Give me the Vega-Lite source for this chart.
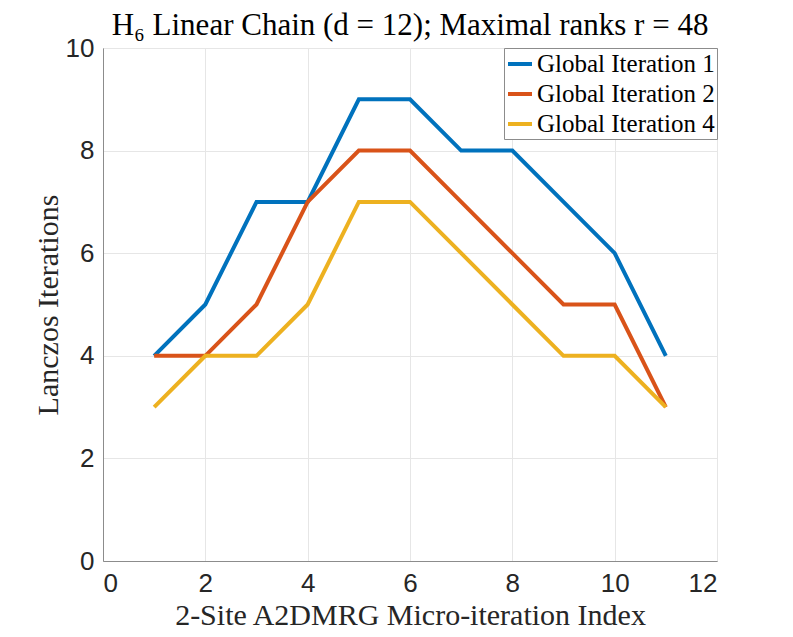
{
  "$schema": "https://vega.github.io/schema/vega-lite/v6.json",
  "autosize": "none",
  "width": 614,
  "height": 513,
  "padding": {"left": 103, "top": 48, "right": 76, "bottom": 76},
  "background": "white",
  "title": {
    "text": "H₆ Linear Chain (d = 12); Maximal ranks r = 48",
    "font": "Liberation Serif",
    "fontSize": 31,
    "fontWeight": "normal",
    "color": "black",
    "anchor": "middle",
    "offset": -7
  },
  "config": {
    "view": {"stroke": "#8c8c8c", "strokeWidth": 1},
    "axis": {
      "labelFont": "Liberation Sans",
      "labelFontSize": 26,
      "labelColor": "#262626",
      "titleFont": "Liberation Serif",
      "titleFontSize": 30,
      "titleFontWeight": "normal",
      "titleColor": "#262626",
      "domainColor": "#8c8c8c",
      "ticks": false,
      "gridColor": "#e6e6e6",
      "gridWidth": 1
    }
  },
  "data": {
    "values": [
      {"x": 1, "y": 4, "s": "Global Iteration 1"},
      {"x": 2, "y": 5, "s": "Global Iteration 1"},
      {"x": 3, "y": 7, "s": "Global Iteration 1"},
      {"x": 4, "y": 7, "s": "Global Iteration 1"},
      {"x": 5, "y": 9, "s": "Global Iteration 1"},
      {"x": 6, "y": 9, "s": "Global Iteration 1"},
      {"x": 7, "y": 8, "s": "Global Iteration 1"},
      {"x": 8, "y": 8, "s": "Global Iteration 1"},
      {"x": 9, "y": 7, "s": "Global Iteration 1"},
      {"x": 10, "y": 6, "s": "Global Iteration 1"},
      {"x": 11, "y": 4, "s": "Global Iteration 1"},
      {"x": 1, "y": 4, "s": "Global Iteration 2"},
      {"x": 2, "y": 4, "s": "Global Iteration 2"},
      {"x": 3, "y": 5, "s": "Global Iteration 2"},
      {"x": 4, "y": 7, "s": "Global Iteration 2"},
      {"x": 5, "y": 8, "s": "Global Iteration 2"},
      {"x": 6, "y": 8, "s": "Global Iteration 2"},
      {"x": 7, "y": 7, "s": "Global Iteration 2"},
      {"x": 8, "y": 6, "s": "Global Iteration 2"},
      {"x": 9, "y": 5, "s": "Global Iteration 2"},
      {"x": 10, "y": 5, "s": "Global Iteration 2"},
      {"x": 11, "y": 3, "s": "Global Iteration 2"},
      {"x": 1, "y": 3, "s": "Global Iteration 4"},
      {"x": 2, "y": 4, "s": "Global Iteration 4"},
      {"x": 3, "y": 4, "s": "Global Iteration 4"},
      {"x": 4, "y": 5, "s": "Global Iteration 4"},
      {"x": 5, "y": 7, "s": "Global Iteration 4"},
      {"x": 6, "y": 7, "s": "Global Iteration 4"},
      {"x": 7, "y": 6, "s": "Global Iteration 4"},
      {"x": 8, "y": 5, "s": "Global Iteration 4"},
      {"x": 9, "y": 4, "s": "Global Iteration 4"},
      {"x": 10, "y": 4, "s": "Global Iteration 4"},
      {"x": 11, "y": 3, "s": "Global Iteration 4"}
    ]
  },
  "mark": {"type": "line", "strokeWidth": 4, "strokeJoin": "miter", "strokeCap": "butt"},
  "encoding": {
    "x": {
      "field": "x", "type": "quantitative",
      "scale": {"domain": [0, 12], "nice": false},
      "axis": {"values": [0, 2, 4, 6, 8, 10, 12], "title": "2-Site A2DMRG Micro-iteration Index", "labelPadding": 9, "titlePadding": 4}
    },
    "y": {
      "field": "y", "type": "quantitative",
      "scale": {"domain": [0, 10], "nice": false},
      "axis": {"values": [0, 2, 4, 6, 8, 10], "title": "Lanczos Iterations", "labelPadding": 9, "titlePadding": 2}
    },
    "color": {
      "field": "s", "type": "nominal",
      "scale": {"domain": ["Global Iteration 1", "Global Iteration 2", "Global Iteration 4"], "range": ["#0072BD", "#D95319", "#EDB120"]},
      "legend": {
        "title": null,
        "orient": "top-right",
        "offset": 0,
        "padding": 2,
        "fillColor": "white",
        "strokeColor": "#8c8c8c",
        "labelFont": "Liberation Serif",
        "labelFontSize": 25,
        "labelColor": "black",
        "labelLimit": 400,
        "symbolType": "stroke",
        "symbolStrokeWidth": 4,
        "symbolSize": 576,
        "rowPadding": 3,
        "labelOffset": 3
      }
    }
  }
}
